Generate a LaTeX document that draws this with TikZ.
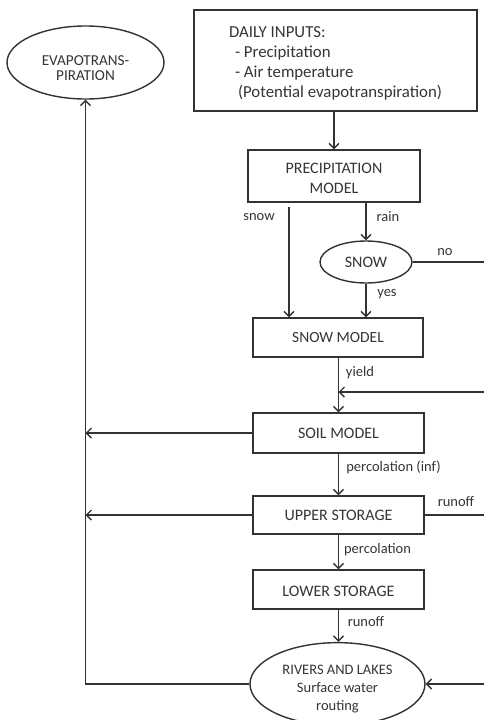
\documentclass[tikz,border=0pt]{standalone}
\usepackage{fontspec}
\setmainfont{Carlito}
\usetikzlibrary{shapes.geometric,arrows.meta}
\definecolor{linec}{HTML}{333333}
\definecolor{txtc}{HTML}{353535}
\begin{document}
\begin{tikzpicture}[x=1pt,y=-1pt,
  boxst/.style={draw=linec, line width=1.4pt, rectangle, inner sep=0pt, text=txtc,
    font=\fontsize{16}{20}\selectfont, align=center},
  ellst/.style={draw=linec, line width=1.4pt, ellipse, inner sep=0pt, text=txtc, align=center},
  lbl/.style={text=txtc, font=\fontsize{14.5}{17}\selectfont, inner sep=0pt},
  conn/.style={draw=linec, line width=1.4pt},
  arr/.style={conn, -{Straight Barb[length=5pt,width=10pt,line width=1.4pt]}}]
\useasboundingbox (0,0) rectangle (484,720);
\fill[white] (0,0) rectangle (484,720);

% nodes
\node[boxst, minimum width=283pt, minimum height=101pt, align=left,
  font=\fontsize{16.8}{20}\selectfont] (inputs) at (335.5,60.5)
  {\rule{0pt}{17pt}DAILY INPUTS:\\\hspace*{6pt}- Precipitation\\\hspace*{6pt}- Air temperature\\\hspace*{9pt}(Potential evapotranspiration)};
\node[ellst, minimum width=157pt, minimum height=73pt, font=\fontsize{15.2}{15}\selectfont]
  (evap) at (85.5,62.5) {\rule{0pt}{22pt}EVAPOTRANS-\\PIRATION};
\node[boxst, minimum width=172pt, minimum height=52pt] (precip) at (334,176) {\rule{0pt}{15pt}PRECIPITATION\\MODEL};
\node[ellst, minimum width=92pt, minimum height=42pt, font=\fontsize{16}{18}\selectfont]
  (snowq) at (366,262) {SNOW};
\node[boxst, minimum width=170pt, minimum height=39pt, font=\fontsize{15.5}{18}\selectfont]
  (snowm) at (338,337.5) {SNOW MODEL};
\node[boxst, minimum width=171pt, minimum height=40pt] (soil) at (338.5,433) {SOIL MODEL};
\node[boxst, minimum width=171pt, minimum height=38pt] (upper) at (338.5,515) {UPPER STORAGE};
\node[boxst, minimum width=171pt, minimum height=39pt] (lower) at (338.5,589.5) {\rule{0pt}{14pt}LOWER STORAGE};
\node[ellst, minimum width=175pt, minimum height=78pt, font=\fontsize{14.5}{18}\selectfont]
  (rivers) at (337.5,684) {\rule{0pt}{20pt}RIVERS AND LAKES\\Surface water\\routing};

% free ends
\coordinate (snowtop) at (289,207);
\coordinate (noend) at (484,262);
\coordinate (yieldin) at (484,392);
\coordinate (runoffend) at (484,515);
\coordinate (riversin) at (484,684);

% connectors
\draw[arr] (inputs.south -| precip.north) -- (precip.north);
\draw[arr] (snowtop) -- (snowtop |- snowm.north);
\draw[arr] (precip.south -| snowq.north) -- (snowq.north);
\draw[arr] (snowq.south) -- (snowq.south |- snowm.north);
\draw[conn] (snowq.east) -- (noend);
\draw[arr] (snowm.south -| soil.north) -- (soil.north);
\draw[arr] (yieldin) -- (yieldin -| soil.north);
\draw[arr] (soil.west) -- (soil.west -| evap.south);
\draw[arr] (soil.south) -- (upper.north);
\draw[conn] (upper.east) -- (runoffend);
\draw[arr] (upper.west) -- (upper.west -| evap.south);
\draw[arr] (upper.south) -- (lower.north);
\draw[arr] (lower.south) -- (lower.south |- rivers.north);
\draw[arr] (riversin) -- (rivers.east);
\draw[arr] (rivers.west) -| (evap.south);

% labels
\node[lbl] (lsnow) at (259,217) {snow};
\node[lbl] (lrain) at (388,217) {rain};
\node[lbl] (lno) at (445,252) {no};
\node[lbl] (lyes) at (387,294) {yes};
\node[lbl] (lyield) at (360,373) {yield};
\node[lbl] (lperc1) at (393.5,467) {percolation (inf)};
\node[lbl] (lrun1) at (456,502) {runoff};
\node[lbl] (lperc2) at (377.5,550) {percolation};
\node[lbl] (lrun2) at (366,622) {runoff};
\end{tikzpicture}
\end{document}
